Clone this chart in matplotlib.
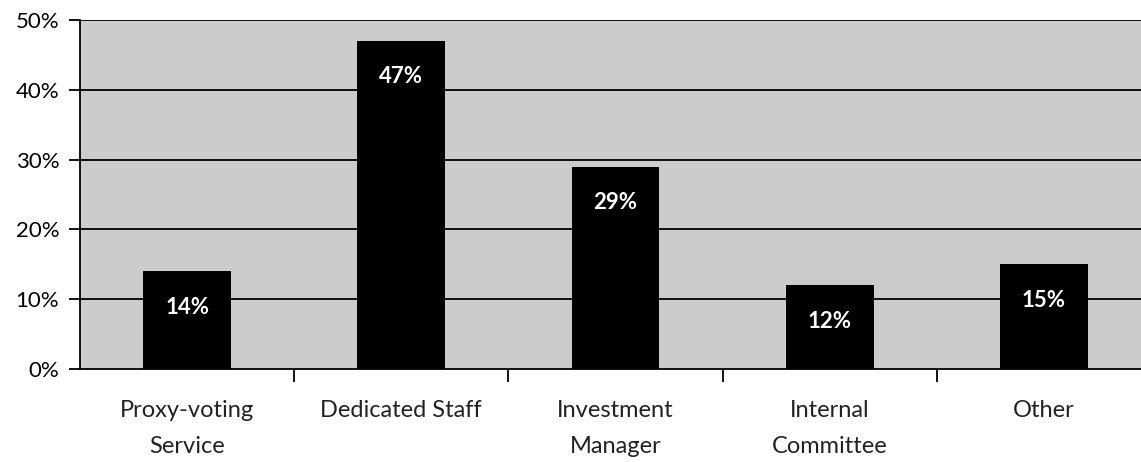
import matplotlib.pyplot as plt
from matplotlib.ticker import FixedLocator

categories = ["Proxy-voting\nService", "Dedicated Staff", "Investment\nManager",
              "Internal\nCommittee", "Other"]
values = [14, 47, 29, 12, 15]
y_ticks = [0, 10, 20, 30, 40, 50]

plt.rcParams['font.family'] = ['Lato', 'DejaVu Sans']

fig = plt.figure(figsize=(11.41, 4.62), dpi=100)
# axes spans x from 80px to ~1151px (last category runs past the edge)
ax = fig.add_axes([80 / 1141, 1 - 369 / 462, 1071 / 1141, 349 / 462])
ax.set_facecolor('#cccccc')

x = list(range(len(categories)))
ax.bar(x, values, width=0.41, color='black', zorder=3)
for xi, v in zip(x, values):
    ax.annotate(f"{v}%", (xi, v), xytext=(0, -36), textcoords='offset pixels',
                ha='center', va='center', color='white', fontsize=16,
                fontweight='bold', zorder=4)

ax.set_xlim(-0.5, len(categories) - 0.5)
ax.set_ylim(0, 50)

for t in y_ticks[1:]:
    ax.axhline(t, color='black', linewidth=1.3, zorder=1)

ax.set_yticks(y_ticks)
ax.set_yticklabels([f"{t}%" for t in y_ticks], fontsize=16)
ax.tick_params(axis='y', length=8, width=1.3, pad=7, colors='black')

# category labels centred, ticks drawn at category boundaries
ax.set_xticks(x)
ax.set_xticklabels(categories, fontsize=17, linespacing=1.9, color='#222222')
ax.tick_params(axis='x', which='major', length=0, pad=22)
ax.xaxis.set_minor_locator(FixedLocator([i + 0.5 for i in x[:-1]]))
ax.tick_params(axis='x', which='minor', length=9, width=1.3, direction='out')

for s in ['top', 'right']:
    ax.spines[s].set_visible(False)
for s in ['left', 'bottom']:
    ax.spines[s].set_linewidth(1.3)
    ax.spines[s].set_zorder(5)

fig.savefig('out.png', dpi=100)
